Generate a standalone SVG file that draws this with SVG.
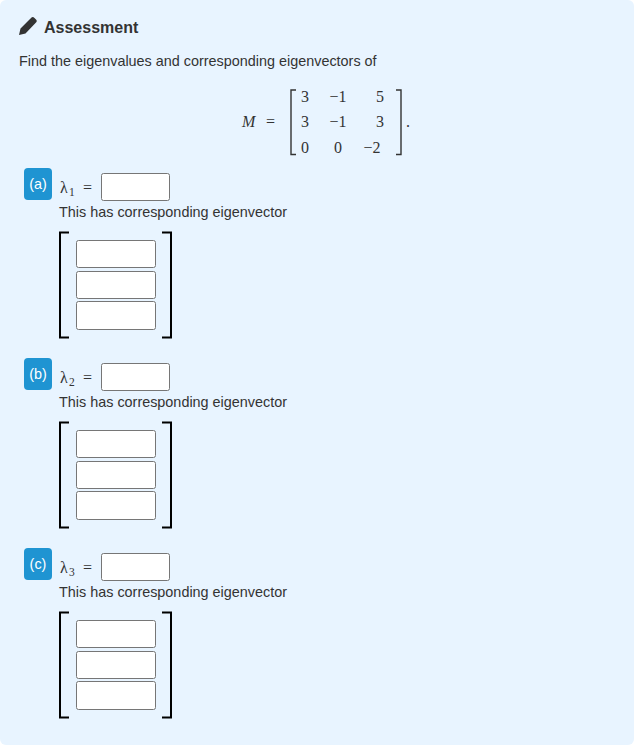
<svg xmlns="http://www.w3.org/2000/svg" width="634" height="745" viewBox="0 0 634 745">
<style>
text{font-family:"Liberation Sans",Arial,sans-serif;fill:#333}
.h{font-size:16px;font-weight:700}
.t{font-size:14.4px}
.m{font-family:"Liberation Serif","Times New Roman",serif;font-size:16px;fill:#333}
.mi{font-style:italic}
.c{text-anchor:middle}
.b{fill:none;stroke:#000;stroke-width:2}
.mb{fill:none;stroke:#333;stroke-width:1.4}
.i{fill:#fff;stroke:#767676;stroke-width:1}
.tag{fill:#1f94d2}
.tt{fill:#fff;font-size:14.4px;text-anchor:middle}
</style>
<defs>
<g id="vec">
<path class="b" d="M69 232.500H60V337.500H69M162 232.500H171V337.500H162"/>
<rect class="i" x="76.500" y="240.500" width="79" height="27" rx="2"/>
<rect class="i" x="76.500" y="271.500" width="79" height="27" rx="2"/>
<rect class="i" x="76.500" y="301.500" width="79" height="28" rx="2"/>
</g>
</defs>
<rect width="634" height="745" fill="#fff"/>
<rect width="634" height="745" rx="6" fill="#e8f4ff"/>
<g id="header">
<path fill="#333" d="M19 35L20.500 28.500L31.500 17.500C32.500 16.500 33.500 17 34.500 18L36 19.500C37 20.500 37 21.500 36 22.500L25.500 33.500Z"/>
<text class="h" x="44" y="33">Assessment</text>
</g>
<text class="t" x="19" y="66">Find the eigenvalues and corresponding eigenvectors of</text>
<g id="matrix">
<text class="m mi" x="242" y="127">M</text>
<text class="m" x="266" y="127">=</text>
<path class="mb" d="M296 90H291V154.500H296M396 90H401V154.500H396"/>
<g class="m c">
<text class="m c" x="305" y="102">3</text><text class="m c" x="338" y="102">−1</text><text class="m c" x="380" y="102">5</text>
<text class="m c" x="305" y="127">3</text><text class="m c" x="338" y="127">−1</text><text class="m c" x="380" y="127">3</text>
<text class="m c" x="305" y="153">0</text><text class="m c" x="338" y="153">0</text><text class="m c" x="372" y="153">−2</text>
</g>
<text class="m" x="406" y="127">.</text>
</g>
<g id="part-a">
<rect class="tag" x="24" y="168" width="28" height="32" rx="4"/>
<text class="tt" x="38" y="189">(a)</text>
<text class="m" x="60" y="193">λ</text><text class="m" x="69" y="196" font-size="11.500" style="font-size:11.500px">1</text>
<text class="m" x="83" y="193">=</text>
<rect class="i" x="101.500" y="173.500" width="68" height="27" rx="2"/>
<text class="t" x="59" y="217">This has corresponding eigenvector</text>
<use href="#vec"/>
</g>
<g id="part-b">
<rect class="tag" x="24" y="358" width="28" height="32" rx="4"/>
<text class="tt" x="38" y="379">(b)</text>
<text class="m" x="60" y="383">λ</text><text class="m" x="69" y="386" style="font-size:11.500px">2</text>
<text class="m" x="83" y="383">=</text>
<rect class="i" x="101.500" y="363.500" width="68" height="27" rx="2"/>
<text class="t" x="59" y="407">This has corresponding eigenvector</text>
<use href="#vec" y="190"/>
</g>
<g id="part-c">
<rect class="tag" x="24" y="548" width="28" height="32" rx="4"/>
<text class="tt" x="38" y="569">(c)</text>
<text class="m" x="60" y="573">λ</text><text class="m" x="69" y="576" style="font-size:11.500px">3</text>
<text class="m" x="83" y="573">=</text>
<rect class="i" x="101.500" y="553.500" width="68" height="27" rx="2"/>
<text class="t" x="59" y="597">This has corresponding eigenvector</text>
<use href="#vec" y="380"/>
</g>
</svg>
